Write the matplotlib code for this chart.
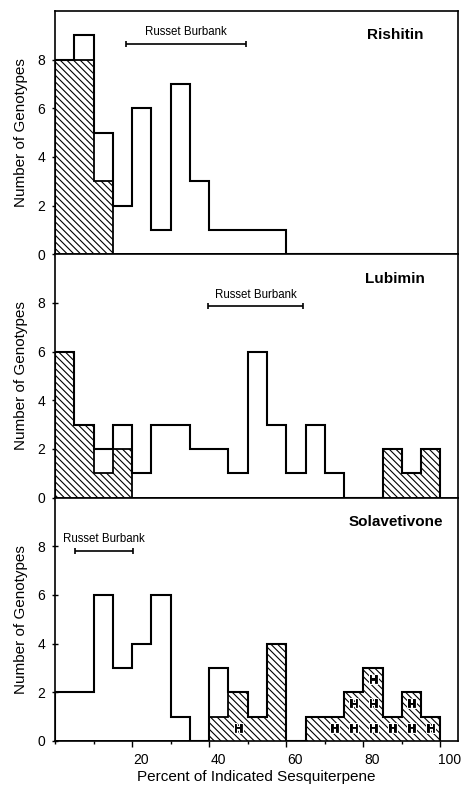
import matplotlib
matplotlib.use("Agg")
import matplotlib.pyplot as plt
import matplotlib.patheffects as pe
from matplotlib.ticker import MultipleLocator
from matplotlib.transforms import ScaledTranslation
import numpy as np

plt.rcParams['font.family'] = ['Liberation Sans', 'DejaVu Sans']
plt.rcParams['hatch.linewidth'] = 0.8
plt.rcParams['hatch.color'] = 'black'

# --- dados (classes de 5 %) ---
bin_edges = list(range(0, 101, 5))

rishitin_total = [8, 9, 5, 2, 6, 1, 7, 3, 1, 1, 1, 1, 0, 0, 0, 0, 0, 0, 0, 0]
rishitin_hatched = [8, 8, 3, 0, 0, 0, 0, 0, 0, 0, 0, 0, 0, 0, 0, 0, 0, 0, 0, 0]

lubimin_total = [6, 3, 2, 3, 1, 3, 3, 2, 2, 1, 6, 3, 1, 3, 1, 0, 0, 2, 1, 2]
lubimin_hatched = [6, 3, 1, 2, 0, 0, 0, 0, 0, 0, 0, 0, 0, 0, 0, 0, 0, 2, 1, 2]

solav_total = [2, 2, 6, 3, 4, 6, 1, 0, 3, 2, 1, 4, 0, 1, 1, 2, 3, 1, 2, 1]
solav_hatched = [0, 0, 0, 0, 0, 0, 0, 0, 1, 2, 1, 4, 0, 1, 1, 2, 3, 1, 2, 1]
solav_H = [0, 0, 0, 0, 0, 0, 0, 0, 0, 1, 0, 0, 0, 0, 1, 2, 3, 1, 2, 1]

compounds = ["Rishitin", "Lubimin", "Solavetivone"]
totals = [rishitin_total, lubimin_total, solav_total]
hatched = [rishitin_hatched, lubimin_hatched, solav_hatched]

# faixa do Russet Burbank (inicio, fim, altura)
rb_lo = [18.4, 39.8, 5.2]
rb_hi = [49.6, 64.4, 20.2]
rb_y = [8.65, 7.86, 7.8]

fig, axes = plt.subplots(3, 1, figsize=(4.62, 7.86), dpi=100, sharex=True)
fig.subplots_adjust(left=0.119, right=0.991, bottom=0.0573, top=0.986, hspace=0)

for ax, name, tot, hat, lo, hi, yb in zip(axes, compounds, totals, hatched, rb_lo, rb_hi, rb_y):
    ax.stairs(hat, bin_edges, fill=True, facecolor='white', edgecolor='black',
              hatch='\\\\\\\\\\', linewidth=1.3, zorder=2)
    ax.stairs(tot, bin_edges, color='black', linewidth=1.5, zorder=3)

    mid = (lo + hi) / 2
    ax.errorbar(mid, yb, xerr=(hi - lo) / 2, color='black', lw=1.2,
                capsize=2.5, capthick=1.2, fmt='none')
    ax.text(mid, yb + 0.48, "Russet Burbank", ha='center', va='center', fontsize=8.3)

    ax.text(0.845, 0.9, name, transform=ax.transAxes, ha='center', va='center',
            fontsize=11, fontweight='bold')

    ax.set_xlim(0, 104.5)
    ax.set_ylim(0, 10)
    ax.set_yticks([0, 2, 4, 6, 8])
    ax.set_ylabel("Number of Genotypes", fontsize=11, labelpad=7)
    ax.xaxis.set_major_locator(MultipleLocator(20))
    ax.xaxis.set_minor_locator(MultipleLocator(10))
    ax.tick_params(axis='x', which='major', direction='out', length=4.5, width=1, labelsize=10, pad=4)
    ax.tick_params(axis='x', which='minor', direction='out', length=2.5, width=1)
    ax.tick_params(axis='y', direction='inout', length=4, width=1, labelsize=10, pad=5)
    for sp in ax.spines.values():
        sp.set_linewidth(1.2)

# marcas "H" nas celulas
ax3 = axes[2]
for i, n in enumerate(solav_H):
    xc = (bin_edges[i] + bin_edges[i + 1]) / 2
    for k in range(n):
        ax3.text(xc, k + 0.5, "H", ha='center', va='center', fontsize=8.5,
                 fontweight='bold', zorder=4,
                 path_effects=[pe.withStroke(linewidth=2.2, foreground='white'),
                               pe.Stroke(linewidth=0.6, foreground='black'),
                               pe.Normal()])

ax3.set_xticks([20, 40, 60, 80, 100])
ax3.set_xlabel("Percent of Indicated Sesquiterpene", fontsize=11, labelpad=2)
offset = ScaledTranslation(9 / 100, 0, fig.dpi_scale_trans)
for lab in ax3.get_xticklabels():
    lab.set_transform(lab.get_transform() + offset)

fig.savefig("out.png", dpi=100)
